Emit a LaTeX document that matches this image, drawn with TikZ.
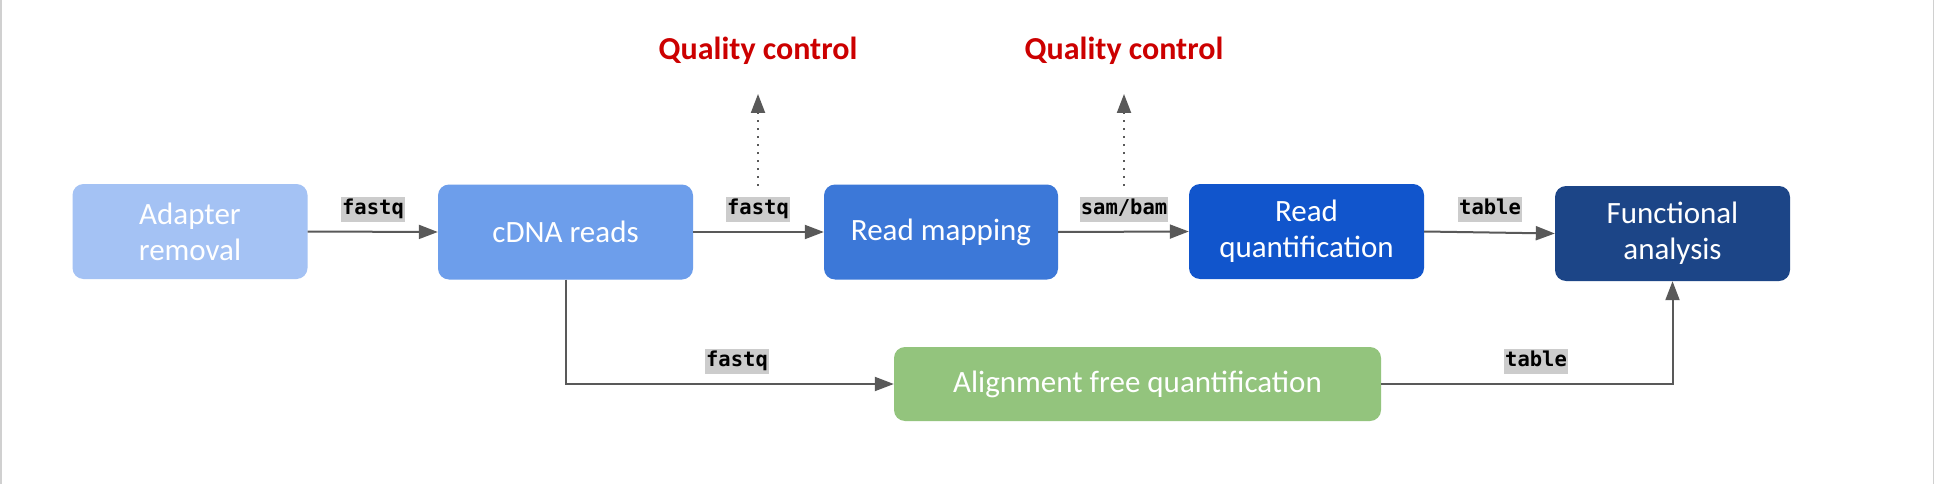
\documentclass[tikz,border=0pt]{standalone}
\usepackage{fontspec}
\setmainfont{Carlito}
\newfontfamily\monof{DejaVu Sans Mono}
\usetikzlibrary{arrows.meta}
\definecolor{cAR}{HTML}{A4C2F4}
\definecolor{cCD}{HTML}{6D9EEB}
\definecolor{cRM}{HTML}{3C78D8}
\definecolor{cRQ}{HTML}{1155CC}
\definecolor{cFA}{HTML}{1C4587}
\definecolor{cAF}{HTML}{93C47D}
\definecolor{cLine}{HTML}{595959}
\definecolor{cLab}{HTML}{CCCCCC}
\definecolor{cQC}{HTML}{CC0000}
\definecolor{cFrame}{HTML}{D0D0D0}
\begin{document}
\begin{tikzpicture}[x=1pt,y=-1pt,
  box/.style={rounded corners=11pt, inner sep=0pt, align=center, text=white,
    font=\fontsize{31}{36}\selectfont, minimum height=95pt},
  lab/.style={fill=cLab, inner xsep=1pt, inner ysep=2.5pt, text height=15pt, text depth=5pt,
    font=\monof\bfseries\fontsize{20.5}{24}\selectfont},
  conn/.style={draw=cLine, line width=2pt, -{Triangle[length=19pt,width=14pt]}},
  qcconn/.style={draw=cLine, line width=2pt, dash pattern=on 2pt off 6pt, -{Triangle[length=19pt,width=14pt]}},
  qc/.style={text=cQC, font=\bfseries\fontsize{32}{38}\selectfont, inner sep=0pt}
]
\useasboundingbox (0,0) rectangle (1934,484);
\fill[white] (0,0) rectangle (1934,484);
\draw[cFrame, line width=1.5pt] (0.75,0) -- (0.75,484);
\draw[cFrame, line width=1.5pt] (1933.25,0) -- (1933.25,484);

\node[box, fill=cAR, minimum width=235pt] (ar) at (190,231.5) {Adapter\\removal};
\node[box, fill=cCD, minimum width=255pt] (cd) at (565.5,232) {cDNA reads};
\node[box, fill=cRM, minimum width=234pt] (rm) at (941,232) {Read mapping};
\node[box, fill=cRQ, minimum width=235pt] (rq) at (1306.5,231.5) {Read\\quantification};
\node[box, fill=cFA, minimum width=235pt] (fa) at (1672.5,233.5) {Functional\\analysis};
\node[box, fill=cAF, minimum width=487pt, minimum height=74pt] (af) at (1137.5,384) {Alignment free quantification};

\node[qc, anchor=base] (qc1) at (758,60) {Quality control};
\node[qc, anchor=base] (qc2) at (1124,60) {Quality control};
\coordinate (q1s) at (758,186);
\coordinate (q1e) at (758,94);
\coordinate (q2s) at (1124,186);
\coordinate (q2e) at (1124,94);
\draw[qcconn] (q1s) -- (q1e);
\draw[qcconn] (q2s) -- (q2e);

\draw[conn] (ar.east) -- (cd.west);
\draw[conn] (cd.east) -- (rm.west);
\draw[conn] (rm.east) -- (rq.west);
\draw[conn] (rq.east) -- (fa.west);
\draw[conn] (cd.south) |- (af.west);
\draw[conn] (af.east) -| (fa.south);

\node[lab] (l1) at (373,209) {fastq};
\node[lab] (l2) at (758,209) {fastq};
\node[lab] (l3) at (1124,209) {sam/bam};
\node[lab] (l4) at (1490,209) {table};
\node[lab] (l5) at (737,361) {fastq};
\node[lab] (l6) at (1536,361) {table};
\end{tikzpicture}
\end{document}
